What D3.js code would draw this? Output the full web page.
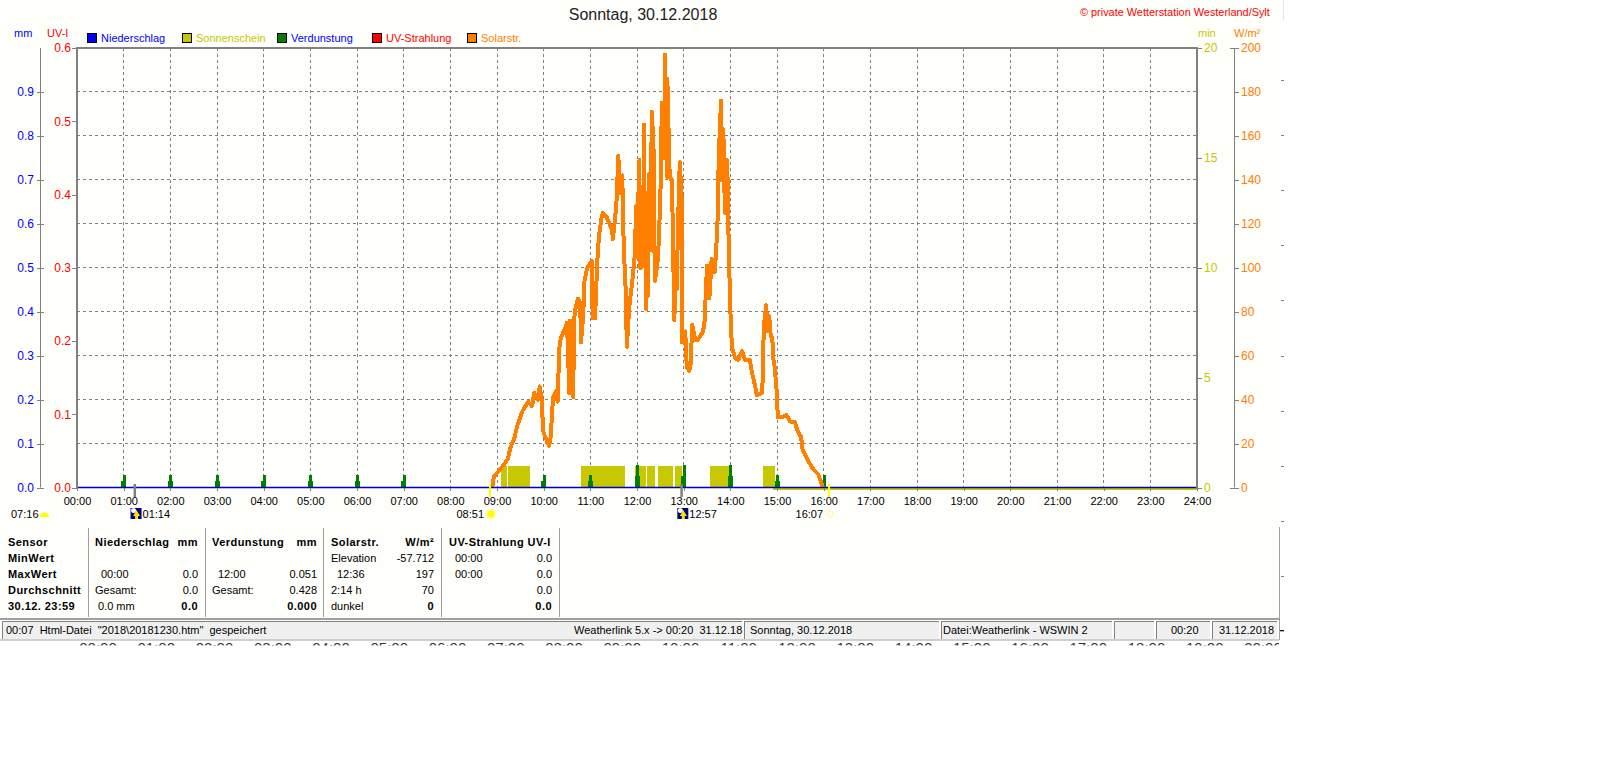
<!DOCTYPE html>
<html>
<head>
<meta charset="utf-8">
<script src="https://cdn.jsdelivr.net/npm/d3@7"></script>
<style>
html, body { margin: 0; padding: 0; background: #fff; overflow: hidden; }
text { font-family: "Liberation Sans", sans-serif; font-size: 11px; }
.b { font-weight: bold; letter-spacing: 0.45px; }
</style>
</head>
<body>
<svg id="chart" width="1600" height="780"></svg>
<script>
// values
const hourLabels = ["00:00","01:00","02:00","03:00","04:00","05:00","06:00","07:00","08:00","09:00","10:00","11:00","12:00","13:00","14:00","15:00","16:00","17:00","18:00","19:00","20:00","21:00","22:00","23:00","24:00"];
const lowerHourLabels = hourLabels.slice(0, 21);
const mmTicks = [0, 0.1, 0.2, 0.3, 0.4, 0.5, 0.6, 0.7, 0.8, 0.9];
const uvTicks = [0, 0.1, 0.2, 0.3, 0.4, 0.5, 0.6];
const minTicks = [0, 5, 10, 15, 20];
const wattTicks = [0, 20, 40, 60, 80, 100, 120, 140, 160, 180, 200];
const gridMm = [0.1, 0.2, 0.3, 0.4, 0.5, 0.6, 0.7, 0.8, 0.9];

// solar radiation, minute of the day / W per m2
const solarMinutes = [534,536,541,548,554,557,562,566,573,580,585,588,593,595,598,599,602,607,609,612,616,618,620,622,627,630,633,634,638,639,640,644,647,648,651,652,656,662,663,666,669,671,674,676,681,688,689,692,694,696,698,701,702,703,705,707,710,714,717,719,720,722,723,724,725,726,727,728,729,730,731,732,733,734,735,736,737,738,739,740,741,742,743,747,750,752,755,756,759,759,762,765,768,770,771,773,775,778,778,782,784,787,789,791,795,798,805,807,810,813,816,820,823,824,825,828,828,831,833,836,837,838,840,842,846,850,855,859,865,868,872,874,881,882,883,886,888,890,892,894,895,897,900,901,906,912,917,923,926,931,933,939,945,953,959];
const solarValues = [0,5,7,10,13,18,22,28,35,39,37,43,40,46,38,26,23,19,23,41,44,39,63,68,72,75,43,76,41,74,80,86,84,66,79,93,100,103,77,77,103,114,122,125,123,117,113,123,132,151,134,142,127,108,95,64,82,94,105,128,105,135,149,100,127,100,135,110,165,120,100,81,110,87,120,143,108,130,171,130,164,120,94,104,131,175,150,197,141,186,142,139,76,102,90,123,148,128,66,71,55,53,56,74,67,67,71,76,101,86,104,98,116,126,149,176,140,163,125,149,129,108,81,64,59,58,62,58,58,52,46,42,43,55,73,83,71,78,69,68,59,55,42,32,32,33,30,30,26,23,17,13,9,6,0];

// sunshine minutes per block
const sunStart = [545,554,648,717,733,747,769,814,882];
const sunEnd = [553,582,705,732,743,766,778,840,897];
const sunMinutes = [1,1,1,1,1,1,1,1,1];
const sunZeroFrom = 895;

// evaporation, hour / mm
const evapHours = [1,2,3,4,5,6,7,10,11,12,13,14,15,16];
const evapValues = [0.028,0.028,0.028,0.028,0.028,0.028,0.028,0.028,0.028,0.051,0.051,0.051,0.028,0.028];

const legendNames = ["Niederschlag","Sonnenschein","Verdunstung","UV-Strahlung","Solarstr."];
const legendColors = ["#0000ff","#c8c800","#008000","#ff0000","#ff8000"];
const legendTextColors = ["#0000ff","#c8c800","#0000ff","#ff0000","#ff8000"];
const legendBoxX = [87,182,277,372,467];

const svg = d3.select("#chart");
const bg = "#fefefb";
const gray = "#808080";
const plotLeft = 77, plotRight = 1197, plotTop = 48, plotBottom = 487.5;

const x = d3.scaleLinear().domain([0, 1440]).range([plotLeft, plotRight]);
const yMm = d3.scaleLinear().domain([0, 1]).range([plotBottom, plotTop]);
const yUv = d3.scaleLinear().domain([0, 0.6]).range([plotBottom, plotTop]);
const yMin = d3.scaleLinear().domain([0, 20]).range([plotBottom, plotTop]);
const yW = d3.scaleLinear().domain([0, 200]).range([plotBottom, plotTop]);

// window area
svg.append("rect").attr("width", 1279).attr("height", 640).attr("fill", bg);
svg.append("rect").attr("x", 1279).attr("width", 321).attr("height", 780).attr("fill", "#fff");
svg.append("line").attr("x1", 1279.5).attr("x2", 1279.5).attr("y1", 527).attr("y2", 640).attr("stroke", "#a0a0a0");
svg.append("line").attr("x1", 1283.5).attr("x2", 1283.5).attr("y1", 0).attr("y2", 20).attr("stroke", "#e4e4e4");

// title
svg.append("text").attr("x", 643).attr("y", 20).attr("text-anchor", "middle").style("font-size", "16px").attr("fill", "#222").text("Sonntag, 30.12.2018");
svg.append("text").attr("x", 1080).attr("y", 16).attr("fill", "#ff0000").style("font-size", "10.9px").text("© private Wetterstation Westerland/Sylt");

// unit labels
const units = [["mm",14,"#0000ff"],["UV-I",47,"#ff0000"],["min",1198,"#c8c800"],["W/m²",1234,"#ff8000"]];
svg.selectAll(".unit").data(units).join("text").attr("class", "unit").attr("x", d => d[1]).attr("y", 37).attr("fill", d => d[2]).text(d => d[0]);

// legend
legendNames.forEach((n, i) => {
  svg.append("rect").attr("x", legendBoxX[i] + 0.5).attr("y", 33.5).attr("width", 9).attr("height", 9)
    .attr("fill", legendColors[i]).attr("stroke", "#000").attr("shape-rendering", "crispEdges");
  svg.append("text").attr("x", legendBoxX[i] + 14).attr("y", 42).attr("fill", legendTextColors[i]).text(n);
});

// grid
const grid = svg.append("g").attr("stroke", gray).attr("stroke-dasharray", "3,3").attr("shape-rendering", "crispEdges");
grid.selectAll(".gv").data(d3.range(60, 1440, 60)).join("line").attr("class", "gv")
  .attr("x1", d => x(d)).attr("x2", d => x(d)).attr("y1", plotTop).attr("y2", plotBottom);
grid.selectAll(".gh").data(gridMm).join("line").attr("class", "gh")
  .attr("x1", plotLeft).attr("x2", plotRight).attr("y1", d => yMm(d)).attr("y2", d => yMm(d));

// sunshine
svg.selectAll(".sun").data(sunStart).join("rect").attr("class", "sun")
  .attr("x", d => x(d)).attr("width", (d, i) => x(sunEnd[i]) - x(d))
  .attr("y", (d, i) => yMin(sunMinutes[i])).attr("height", (d, i) => plotBottom - yMin(sunMinutes[i]))
  .attr("fill", "#c8c800").attr("shape-rendering", "crispEdges");
svg.append("line").attr("x1", x(sunZeroFrom)).attr("x2", plotRight).attr("y1", plotBottom + 1.5).attr("y2", plotBottom + 1.5)
  .attr("stroke", "#c8c800").attr("stroke-width", 2).attr("shape-rendering", "crispEdges");

// evaporation spikes, wide foot and narrow top
svg.selectAll(".evFoot").data(evapHours).join("rect").attr("class", "evFoot")
  .attr("x", d => x(d * 60) - 2.5).attr("width", 5)
  .attr("y", (d, i) => yMm(evapValues[i] / 2)).attr("height", (d, i) => plotBottom - yMm(evapValues[i] / 2))
  .attr("fill", "#008000").attr("shape-rendering", "crispEdges");
svg.selectAll(".evTop").data(evapHours).join("rect").attr("class", "evTop")
  .attr("x", d => x(d * 60) - 1).attr("width", 3)
  .attr("y", (d, i) => yMm(evapValues[i])).attr("height", (d, i) => plotBottom - yMm(evapValues[i]))
  .attr("fill", "#008000").attr("shape-rendering", "crispEdges");

// solar radiation
const solarLine = d3.line().x(d => x(d[0])).y(d => yW(d[1]));
svg.append("path").datum(solarMinutes.map((m, i) => [m, solarValues[i]])).attr("d", solarLine)
  .attr("fill", "none").attr("stroke", "#ff8000").attr("stroke-width", 4)
  .attr("stroke-linejoin", "round").attr("shape-rendering", "crispEdges");

// rainfall sits on the baseline
svg.append("line").attr("x1", plotLeft).attr("x2", plotRight).attr("y1", yMm(0)).attr("y2", yMm(0))
  .attr("stroke", "#0000c0").attr("stroke-width", 1.5);

// frame
const plotFrame = svg.append("g").attr("stroke", "#808080").attr("stroke-width", 2).attr("shape-rendering", "crispEdges");
plotFrame.append("line").attr("x1", plotLeft).attr("x2", plotLeft).attr("y1", plotTop - 1).attr("y2", plotBottom);
plotFrame.append("line").attr("x1", plotRight).attr("x2", plotRight).attr("y1", plotTop - 1).attr("y2", plotBottom);
plotFrame.append("line").attr("x1", plotLeft).attr("x2", plotRight).attr("y1", plotTop).attr("y2", plotTop);

// axes
function styleAxis(g, color) {
  g.select(".domain").remove();
  g.selectAll("line").attr("stroke", gray).attr("shape-rendering", "crispEdges");
  g.selectAll("text").attr("fill", color).style("font-size", "12px");
}
svg.append("g").attr("transform", "translate(44,0)")
  .call(d3.axisLeft(yMm).tickValues(mmTicks).tickFormat(d3.format(".1f")).tickSize(7).tickPadding(3))
  .call(styleAxis, "#0000ff");
svg.append("g").attr("transform", `translate(${plotLeft},0)`)
  .call(d3.axisLeft(yUv).tickValues(uvTicks).tickFormat(d3.format(".1f")).tickSize(5).tickPadding(1))
  .call(styleAxis, "#ff0000");
svg.append("g").attr("transform", `translate(${plotRight},0)`)
  .call(d3.axisRight(yMin).tickValues(minTicks).tickSize(5).tickPadding(2))
  .call(styleAxis, "#c8c800");
svg.append("g").attr("transform", "translate(1234,0)")
  .call(d3.axisRight(yW).tickValues(wattTicks).tickSize(5).tickPadding(2))
  .call(styleAxis, "#ff8000");
svg.selectAll(".axv").data([[40.5, plotTop, plotBottom], [1234.5, plotTop, plotBottom]]).join("line").attr("class", "axv")
  .attr("x1", d => d[0]).attr("x2", d => d[0]).attr("y1", d => d[1]).attr("y2", d => d[2]).attr("stroke", gray);
svg.selectAll(".wEnd").data([0, 200]).join("line").attr("class", "wEnd")
  .attr("x1", 1230).attr("x2", 1234).attr("y1", d => Math.round(yW(d)) + 0.5).attr("y2", d => Math.round(yW(d)) + 0.5).attr("stroke", gray);

const hourScale = d3.scalePoint().domain(hourLabels).range([plotLeft, plotRight]);
svg.append("g").attr("transform", `translate(0,${plotBottom})`)
  .call(d3.axisBottom(hourScale).tickSize(3).tickPadding(7))
  .call(g => {
    g.select(".domain").remove();
    g.selectAll("line").attr("stroke", gray).attr("shape-rendering", "crispEdges");
    g.selectAll("text").attr("fill", "#000").style("font-size", "11px");
  });

// sun and moon events
const moonEvents = [[74, "01:14"], [777, "12:57"]];
moonEvents.forEach(e => {
  const px = x(e[0]);
  svg.append("rect").attr("x", px - 1).attr("y", 484).attr("width", 2.5).attr("height", 13).attr("fill", gray);
  svg.append("rect").attr("x", px - 4).attr("y", 508).attr("width", 11).attr("height", 11).attr("fill", "#000080");
  svg.append("circle").attr("cx", px - 1).attr("cy", 510.5).attr("r", 2.5).attr("fill", "#fff");
  svg.append("path").attr("d", `M${px + 2},510 l3.5,6 h-2 v3 h-3 v-3 h-2 z`).attr("fill", "#ffe000");
  svg.append("text").attr("x", px + 8).attr("y", 518).attr("fill", "#000").text(e[1]);
});
const sunEvents = [[531, "08:51", "#ffff00"], [967, "16:07", "#ffff00"]];
sunEvents.forEach(e => {
  svg.append("rect").attr("x", x(e[0]) - 1).attr("y", 484).attr("width", 2).attr("height", 13).attr("fill", e[2]);
  svg.append("text").attr("x", x(e[0]) - 6).attr("y", 518).attr("text-anchor", "end").attr("fill", "#000").text(e[1]);
});
const sx = x(sunEvents[0][0]) + 1;
svg.append("circle").attr("cx", sx).attr("cy", 514).attr("r", 5.5).attr("fill", "#ffffb0");
svg.append("circle").attr("cx", sx).attr("cy", 514).attr("r", 3.5).attr("fill", "#ffff00");
svg.append("circle").attr("cx", x(sunEvents[1][0]) + 1).attr("cy", 514).attr("r", 3).attr("fill", bg).attr("stroke", "#ffff80");
svg.append("text").attr("x", 11).attr("y", 518).attr("fill", "#000").text("07:16");
svg.append("path").attr("d", "M40,517 a4.5,4.5 0 0 1 9,0 z").attr("fill", "#ffff00");

// sensor table
const sensorRows = ["Sensor","MinWert","MaxWert","Durchschnitt","30.12. 23:59"];
const rowY = [546, 562, 578, 594, 610];
const tableLeft = [
  [95,0,"Niederschlag",1],[101,2,"00:00",0],[95,3,"Gesamt:",0],[98,4,"0.0 mm",0],
  [212,0,"Verdunstung",1],[218,2,"12:00",0],[212,3,"Gesamt:",0],
  [331,0,"Solarstr.",1],[331,1,"Elevation",0],[337,2,"12:36",0],[331,3,"2:14 h",0],[331,4,"dunkel",0],
  [449,0,"UV-Strahlung UV-I",1],[455,1,"00:00",0],[455,2,"00:00",0]
];
const tableRight = [
  [198,0,"mm",1],[198,2,"0.0",0],[198,3,"0.0",0],[198,4,"0.0",1],
  [317,0,"mm",1],[317,2,"0.051",0],[317,3,"0.428",0],[317,4,"0.000",1],
  [434,0,"W/m²",1],[434,1,"-57.712",0],[434,2,"197",0],[434,3,"70",0],[434,4,"0",1],
  [552,1,"0.0",0],[552,2,"0.0",0],[552,3,"0.0",0],[552,4,"0.0",1]
];
sensorRows.forEach((s, i) => svg.append("text").attr("class", "b").attr("x", 8).attr("y", rowY[i]).attr("fill", "#000").text(s));
tableLeft.forEach(d => svg.append("text").attr("class", d[3] ? "b" : null).attr("x", d[0]).attr("y", rowY[d[1]]).attr("fill", "#000").text(d[2]));
tableRight.forEach(d => svg.append("text").attr("class", d[3] ? "b" : null).attr("x", d[0]).attr("y", rowY[d[1]]).attr("text-anchor", "end").attr("fill", "#000").text(d[2]));
svg.selectAll(".div").data([88, 205, 323, 441, 559]).join("line").attr("class", "div")
  .attr("x1", d => d + 0.5).attr("x2", d => d + 0.5).attr("y1", 528).attr("y2", 617).attr("stroke", "#a0a0a0");

// status bar
svg.append("rect").attr("x", 0).attr("y", 618).attr("width", 1279).attr("height", 2).attr("fill", "#a0a0a0");
const cellX = [2, 744, 941, 1114, 1156, 1212];
const cellW = [740, 195, 171, 40, 54, 65];
cellX.forEach((cx, i) => {
  svg.append("rect").attr("x", cx).attr("y", 621).attr("width", cellW[i]).attr("height", 18).attr("fill", "#f0f0f0");
  svg.append("path").attr("d", `M${cx + 0.5},639 V621.5 H${cx + cellW[i]}`).attr("fill", "none").attr("stroke", "#808080");
});
svg.append("rect").attr("x", 0).attr("y", 639.5).attr("width", 1279).attr("height", 1).attr("fill", "#a0a0a0");
const statusTexts = [
  [6, "00:07  Html-Datei  \"2018\\20181230.htm\"  gespeichert"],
  [574, "Weatherlink 5.x -> 00:20  31.12.18"],
  [750, "Sonntag, 30.12.2018"],
  [943, "Datei:Weatherlink - WSWIN 2"],
  [1171, "00:20"],
  [1219, "31.12.2018"]
];
statusTexts.forEach(d => svg.append("text").attr("x", d[0]).attr("y", 634).attr("fill", "#000").style("white-space", "pre").text(d[1]));

// clipped labels of a second chart below the window
svg.append("clipPath").attr("id", "lowerClip").append("rect").attr("x", 0).attr("y", 642).attr("width", 1279).attr("height", 3.5);
const lowerX = d3.scalePoint().domain(lowerHourLabels).range([98, 1263]);
svg.append("g").attr("clip-path", "url(#lowerClip)").selectAll("text").data(lowerHourLabels).join("text")
  .attr("x", d => lowerX(d)).attr("y", 653).attr("text-anchor", "middle").attr("fill", "#333").style("font-size", "15px").text(d => d);

// small marks right of the window
const sideMarks = [80, 135, 190, 245, 300, 356, 411, 466, 521, 576];
svg.selectAll(".side").data(sideMarks).join("rect").attr("class", "side").attr("x", 1281).attr("y", d => d).attr("width", 3).attr("height", 1).attr("fill", gray);
svg.append("rect").attr("x", 1280).attr("y", 630).attr("width", 4).attr("height", 1).attr("fill", "#0000c0");
svg.append("rect").attr("x", 1280).attr("y", 631).attr("width", 4).attr("height", 1).attr("fill", "#c8c800");
</script>
</body>
</html>
